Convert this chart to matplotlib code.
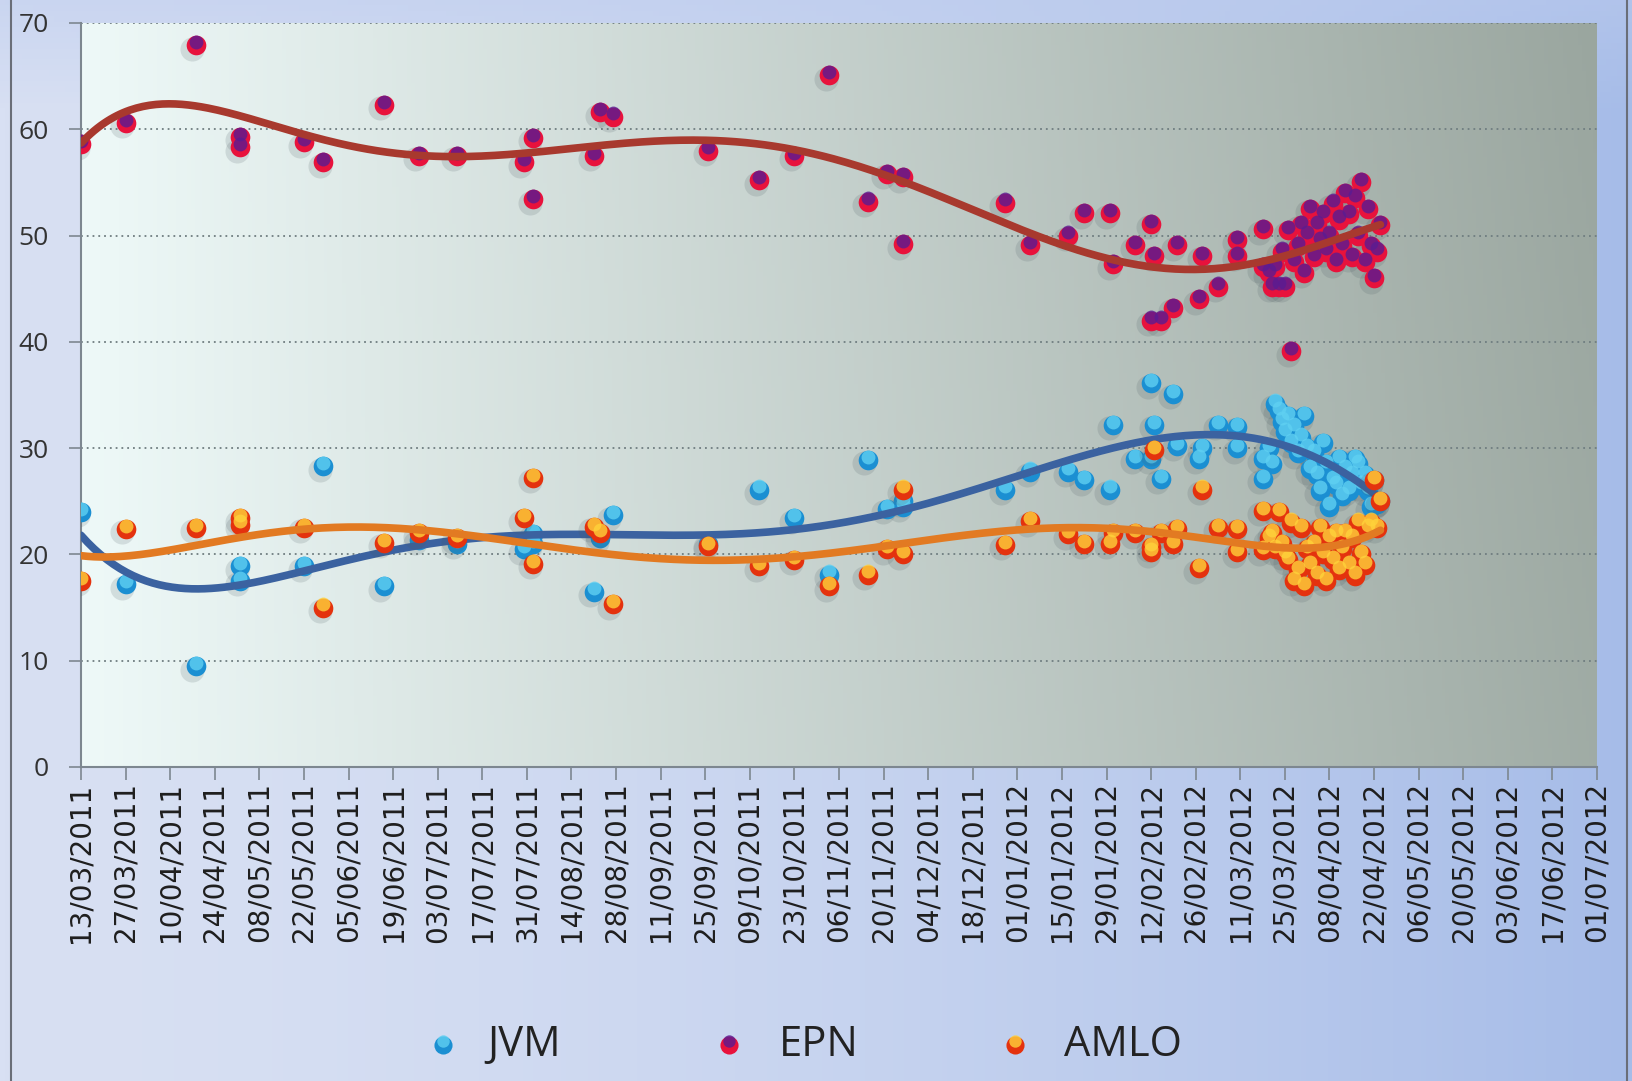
import numpy as np
import pandas as pd
import matplotlib
matplotlib.use('Agg')
import matplotlib.pyplot as plt
import matplotlib.dates as mdates
from matplotlib.transforms import offset_copy
from matplotlib.colors import to_rgb

# poll dates and results (%)
poll_dates = [
    '2011-03-13', '2011-03-27', '2011-04-18', '2011-05-02', '2011-05-02',
    '2011-05-22', '2011-05-28', '2011-06-16', '2011-06-27', '2011-07-09',
    '2011-07-30', '2011-08-02', '2011-08-02', '2011-08-21', '2011-08-23',
    '2011-08-27', '2011-09-26', '2011-10-12', '2011-10-23', '2011-11-03',
    '2011-11-15', '2011-11-21', '2011-11-26', '2011-11-26', '2011-12-28',
    '2012-01-05', '2012-01-17', '2012-01-22', '2012-01-30', '2012-01-31',
    '2012-02-07', '2012-02-12', '2012-02-13', '2012-02-12', '2012-02-15',
    '2012-02-19', '2012-02-20', '2012-02-27', '2012-02-28', '2012-03-04',
    '2012-03-10', '2012-03-10', '2012-03-18', '2012-03-18',
    '2012-03-20', '2012-03-21', '2012-03-22', '2012-03-23', '2012-03-24',
    '2012-03-25', '2012-03-26', '2012-03-27', '2012-03-28', '2012-03-29',
    '2012-03-30', '2012-03-31', '2012-04-01', '2012-04-02', '2012-04-03',
    '2012-04-04', '2012-04-05', '2012-04-06', '2012-04-07', '2012-04-08',
    '2012-04-09', '2012-04-10', '2012-04-11', '2012-04-12', '2012-04-13',
    '2012-04-14', '2012-04-15', '2012-04-16', '2012-04-17', '2012-04-18',
    '2012-04-19', '2012-04-20', '2012-04-21', '2012-04-22', '2012-04-23',
    '2012-04-24',
]

jvm = [
    24.0, 17.2, 9.5, 18.9, 17.5, 18.9, 28.3, 17.0, 21.4, 21.0,
    20.5, 21.9, 21.0, 16.5, 21.5, 23.7, 21.0, 26.1, 23.4, 18.1,
    28.9, 24.3, 24.5, 25.0, 26.1, 27.8, 27.8, 27.0, 26.1, 32.2,
    29.0, 36.1, 32.2, 29.0, 27.1, 35.1, 30.2, 29.0, 30.0, 32.2,
    30.0, 32.0, 29.0, 27.1,
    30.0, 28.5, 34.2, 33.5, 32.5, 31.5, 33.0, 30.5, 32.0, 29.5,
    31.0, 33.0, 30.0, 28.0, 29.5, 27.5, 26.0, 30.5, 28.5, 24.5,
    27.0, 26.5, 29.0, 25.5, 28.0, 26.0, 27.5, 29.0, 28.5, 26.5,
    27.5, 26.0, 24.5, 27.0, 24.7, 25.0,
]

epn = [
    58.6, 60.6, 67.9, 59.3, 58.3, 58.8, 56.9, 62.3, 57.5, 57.5,
    56.9, 59.2, 53.4, 57.5, 61.6, 61.2, 58.0, 55.2, 57.5, 65.1,
    53.2, 55.8, 55.5, 49.2, 53.1, 49.1, 50.0, 52.1, 52.1, 47.3,
    49.1, 51.1, 48.1, 42.0, 42.0, 43.2, 49.1, 44.0, 48.1, 45.2,
    49.6, 48.1, 50.6, 47.0,
    46.5, 45.2, 47.0, 45.2, 48.5, 45.2, 50.5, 39.1, 47.5, 49.0,
    51.0, 46.5, 50.0, 52.5, 48.0, 51.0, 49.5, 52.0, 48.5, 50.0,
    53.0, 47.5, 51.5, 49.0, 54.0, 52.0, 48.0, 53.5, 50.0, 55.0,
    47.5, 52.5, 49.0, 46.0, 48.5, 51.0,
]

amlo = [
    17.5, 22.4, 22.5, 23.4, 22.8, 22.5, 15.0, 21.1, 22.0, 21.5,
    23.4, 19.1, 27.2, 22.6, 22.0, 15.3, 20.8, 18.9, 19.5, 17.0,
    18.1, 20.5, 26.1, 20.0, 20.9, 23.1, 21.9, 21.0, 21.0, 22.0,
    22.0, 20.2, 29.8, 20.7, 22.0, 21.0, 22.4, 18.7, 26.1, 22.5,
    20.2, 22.4, 24.1, 20.4,
    21.5, 22.0, 20.5, 24.0, 21.0, 20.0, 19.5, 23.0, 17.5, 18.5,
    22.5, 17.0, 20.5, 19.0, 21.0, 18.0, 22.5, 20.0, 17.5, 21.5,
    19.5, 22.0, 18.5, 20.5, 22.0, 19.0, 21.5, 18.0, 23.0, 20.0,
    19.0, 22.5, 23.0, 27.0, 22.5, 25.0,
]

names = ['JVM', 'EPN', 'AMLO']
# (bottom colour, top colour) of the shaded balls
ball_colors = {
    'JVM': ('#1b8fd2', '#5fd0f2'),
    'EPN': ('#e8123c', '#5a1c92'),
    'AMLO': ('#e4320e', '#ffd23a'),
}
trend_colors = {'JVM': '#3b62a0', 'EPN': '#a8392e', 'AMLO': '#e27a22'}

W, H = 1633, 1081
fig = plt.figure(figsize=(W / 100, H / 100), dpi=100)

# figure background
bg = fig.add_axes([0, 0, 1, 1], zorder=-10)
gx = np.linspace(0, 1, 300)[None, :]
gy = np.linspace(0, 1, 200)[:, None]
c_left = np.array(to_rgb('#d8e0f3'))
c_right = np.array(to_rgb('#a6bce8'))
c_top = np.array(to_rgb('#bccbee'))
t = (gx ** 1.6)[..., None]
img = c_left * (1 - t) + c_right * t
v = (np.clip((gy - 0.9) / 0.1, 0, 1) * 0.5)[..., None]
img = img * (1 - v) + c_top * v
bg.imshow(img, extent=[0, 1, 0, 1], aspect='auto', origin='lower')
bg.plot([0.0068, 0.0068], [0, 1], color='#6a6e78', lw=1.5)
bg.plot([0.9965, 0.9965], [0, 1], color='#6a6e78', lw=1.5)
bg.set_xlim(0, 1)
bg.set_ylim(0, 1)
bg.axis('off')

ax = fig.add_axes([81 / W, 1 - 767 / H, (1597 - 81) / W, (767 - 23) / H])
ax.patch.set_alpha(0)

# plot area gradient
px = np.linspace(0, 1, 400)[None, :]
py = np.linspace(0, 1, 200)[:, None]
p_left = np.array(to_rgb('#eef9f8'))
p_right = np.array(to_rgb('#9aa69f'))
tt = np.clip(px * 0.93 + py * 0.07 * px, 0, 1)[..., None]
pimg = p_left * (1 - tt) + p_right * tt
ax.imshow(pimg, extent=[0, 1, 0, 1], transform=ax.transAxes, aspect='auto',
          origin='lower', zorder=0)

x = mdates.date2num(pd.to_datetime(poll_dates))
series = {'JVM': np.array(jvm), 'EPN': np.array(epn), 'AMLO': np.array(amlo)}

shadow_tr = offset_copy(ax.transData, fig=fig, x=-2.5, y=-2.5, units='points')
top_tr = offset_copy(ax.transData, fig=fig, x=0, y=2.3, units='points')


def draw_balls(xs, ys, base, top, z):
    ax.scatter(xs, ys, s=300, color='#4a5860', alpha=0.16, linewidths=0,
               transform=shadow_tr, zorder=z)
    ax.scatter(xs, ys, s=200, color=base, linewidths=0, zorder=z + 0.1)
    ax.scatter(xs, ys, s=100, color=top, alpha=0.8, linewidths=0,
               transform=top_tr, zorder=z + 0.2)


# polynomial trend lines (order 6), as in the original spreadsheet
days = x - x[0]
tn = (days - 200) / 200
tfine = np.linspace(tn.min(), tn.max(), 400)
xfine = tfine * 200 + 200 + x[0]

z = 3
for name in names:
    vals = series[name]
    base, top = ball_colors[name]
    draw_balls(x, vals, base, top, z)
    coef = np.polyfit(tn, vals, 6)
    ax.plot(xfine, np.polyval(coef, tfine), color=trend_colors[name],
            lw=5.5, solid_capstyle='round', zorder=z + 0.5)
    z += 1

# axes
start = mdates.date2num(pd.Timestamp('2011-03-13'))
end = mdates.date2num(pd.Timestamp('2012-07-01'))
ax.set_xlim(start, end)
ax.set_ylim(0, 70)
ax.set_xticks(np.arange(start, end + 1, 14))
ax.xaxis.set_major_formatter(mdates.DateFormatter('%d/%m/%Y'))
ax.set_yticks(np.arange(0, 71, 10))
ax.tick_params(axis='x', rotation=90, labelsize=20, length=9, width=1.2,
               color='#7d8790', pad=2, labelcolor='#1e1e1e')
ax.tick_params(axis='y', labelsize=19, length=9, width=1.2,
               color='#7d8790', pad=14, labelcolor='#333333')
for lab in ax.get_yticklabels():
    lab.set_fontfamily('Open Sans')
ax.grid(axis='y', color='#6f7d80', linestyle=(0, (1, 2.2)), lw=1.3, zorder=1)
ax.set_axisbelow(True)
for s in ['top', 'right']:
    ax.spines[s].set_visible(False)
for s in ['left', 'bottom']:
    ax.spines[s].set_color('#7d8790')
    ax.spines[s].set_linewidth(1.5)

# legend
leg_y = 1 - 1045 / H
leg_marker_x = [443 / W, 729 / W, 1015 / W]
leg_text_x = [487 / W, 779 / W, 1064 / W]
for name, mx, tx in zip(names, leg_marker_x, leg_text_x):
    base, top = ball_colors[name]
    bg.scatter([mx], [leg_y], s=170, color=base, linewidths=0, zorder=5)
    bg.scatter([mx], [leg_y + 0.004], s=80, color=top, alpha=0.8,
               linewidths=0, zorder=6)
    fig.text(tx, leg_y, name, fontsize=30, family='Open Sans',
             color='#222222', va='center', ha='left')

fig.savefig('out.png', dpi=100)
